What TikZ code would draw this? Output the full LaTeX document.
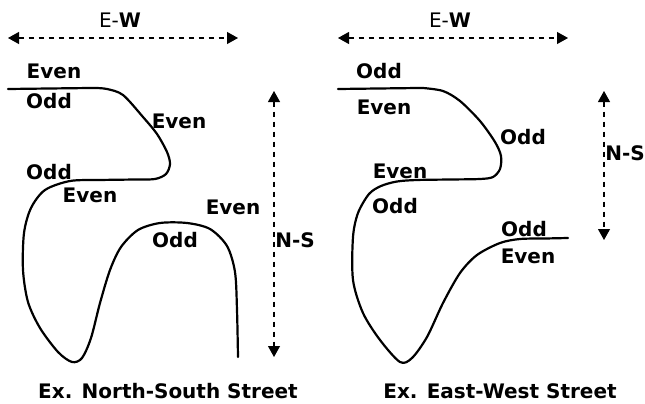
\documentclass[tikz,border=0pt]{standalone}
\usepackage{fontspec}
\setmainfont{DejaVu Sans}
\usetikzlibrary{arrows.meta}
\begin{document}
\begin{tikzpicture}[x=1pt,y=-1pt,
  lbl/.style={font=\fontsize{20}{21}\selectfont\bfseries, inner sep=0pt},
  street/.style={line width=2.2pt, line cap=round, line join=round},
  dirarrow/.style={line width=1.1pt, dash pattern=on 5pt off 5pt, {Triangle[length=11pt,width=12pt]}-{Triangle[length=11pt,width=12pt]}}]
\useasboundingbox (0,0) rectangle (645,404);
\fill[white] (0,0) rectangle (645,404);

% ---------- left diagram ----------
\node[lbl] (ewL) at (120,20) {\mdseries E-\bfseries W};
\coordinate (ewLa) at (8,38);
\coordinate (ewLb) at (238,38);
\draw[dirarrow] (ewLa) -- (ewLb);
\coordinate (nsLa) at (274,91);
\coordinate (nsLb) at (274,357);
\draw[dirarrow] (nsLa) -- (nsLb);
\node[lbl] (nsLt) at (295,240) {N-S};

\draw[street] (8,89) -- (90,88) -- plot[smooth,tension=0.5] coordinates {
  (95,88) (107,89) (123,95) (143,117) (157,134) (167,152) (170,164)
  (166,174) (155,179) (135,179.5) (100,180) (70,181) (45,190) (31,208)
  (24,233) (23,270) (28,302) (40,328) (58,352) (72,362) (82,358)
  (91,338) (100,303) (110,270) (121,247) (138,230) (160,223) (187,223)
  (210,229) (227,246) (235,272) (237,310) (238,357)};

\node[lbl] (l1) at (54,71) {Even};
\node[lbl] (l2) at (49,101) {Odd};
\node[lbl] (l3) at (179,121) {Even};
\node[lbl] (l4) at (49,172) {Odd};
\node[lbl] (l5) at (90,195) {Even};
\node[lbl] (l6) at (233,207) {Even};
\node[lbl] (l7) at (175,240) {Odd};
\node[lbl] (capL) at (168,391) {Ex. North-South Street};

% ---------- right diagram ----------
\node[lbl] (ewR) at (450,20) {\mdseries E-\bfseries W};
\coordinate (ewRa) at (338,38);
\coordinate (ewRb) at (568,38);
\draw[dirarrow] (ewRa) -- (ewRb);
\coordinate (nsRa) at (604,91);
\coordinate (nsRb) at (604,240);
\draw[dirarrow] (nsRa) -- (nsRb);
\node[lbl] (nsRt) at (625,153) {N-S};

\draw[street] (338,89) -- (418,88) -- plot[smooth,tension=0.5] coordinates {
  (423,88) (443,91) (460,101) (480,121) (495,142) (501,156) (500,169)
  (493,177) (480,179) (450,179.5) (417,180) (397,181.5) (381,186)
  (369,194) (358,213) (353,237) (353,280) (363,313) (380,340) (400,362)
  (412,358) (427,337) (443,303) (460,273) (477,255) (500,243) (520,239)
  (545,238.5) (568,238)};

\node[lbl] (r1) at (379,71) {Odd};
\node[lbl] (r2) at (384,107) {Even};
\node[lbl] (r3) at (523,137) {Odd};
\node[lbl] (r4) at (400,171) {Even};
\node[lbl] (r5) at (395,206) {Odd};
\node[lbl] (r6) at (524,229) {Odd};
\node[lbl] (r7) at (528,256) {Even};
\node[lbl] (capR) at (500,391) {Ex. East-West Street};
\end{tikzpicture}
\end{document}
